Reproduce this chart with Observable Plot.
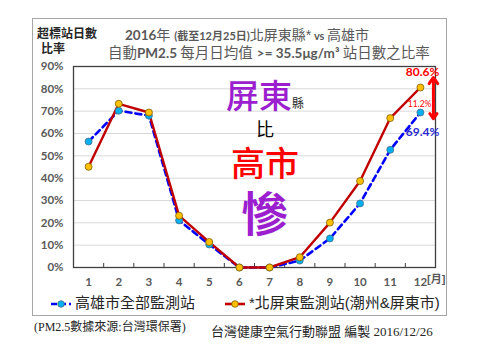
<!DOCTYPE html>
<html><head><meta charset="utf-8">
<script src="https://cdn.jsdelivr.net/npm/d3@7"></script>
<script src="https://cdn.jsdelivr.net/npm/@observablehq/plot@0.6"></script>
<style>
body{margin:0;background:#fff;}
#wrap{position:relative;width:480px;height:360px;overflow:hidden;font-family:"Liberation Sans","Noto Sans CJK TC",sans-serif;}
#wrap > svg{position:absolute;left:0;top:0;}
.abs{position:absolute;white-space:nowrap;line-height:1;}
.lat{font-family:Lato,"Noto Sans CJK TC",sans-serif;font-weight:bold;}
#frame{position:absolute;left:32px;top:18px;width:413px;height:296px;border:1.5px solid #a6a6a6;}
#big{position:absolute;left:200px;top:79px;width:130px;text-align:center;white-space:nowrap;}
</style></head><body><div id="wrap"><div id="frame"></div></div>
<script>
const months = [1,2,3,4,5,6,7,8,9,10,11,12];
const kaohsiung = [56.4,70.2,68.0,21.1,10.3,0,0,3.1,13.0,28.7,52.7,69.4];
const pingtung  = [45.1,73.3,69.4,23.2,11.4,0,0,4.6,20.1,38.7,66.9,80.6];
const yTicks = [0,10,20,30,40,50,60,70,80,90];
const seriesNames = ["高雄市全部監測站","*北屏東監測站(潮州&屏東市)"];

const kData = months.map((m,i)=>({month:m,value:kaohsiung[i]}));
const pData = months.map((m,i)=>({month:m,value:pingtung[i]}));
const bounds = months.slice(0,-1).map(m=>m+0.5);
const last = months.length-1;
const mid = (pingtung[last]+kaohsiung[last])/2;
const diff = (pingtung[last]-kaohsiung[last]).toFixed(1)+"%";

const plot = Plot.plot({
  width:480, height:360,
  marginTop:66, marginBottom:93, marginLeft:73, marginRight:45,
  x:{domain:[0.5,12.5]},
  y:{domain:[0,90]},
  style:{background:"transparent", fontFamily:"Lato, 'Noto Sans CJK TC', sans-serif", fontSize:"11.5px"},
  marks:[
    Plot.ruleY(yTicks.slice(1,-1),{stroke:"#d9d9d9",strokeWidth:1}),
    Plot.frame({stroke:"#404040",strokeWidth:1.3}),
    Plot.ruleX(bounds,{y1:0,y2:1.8,stroke:"#404040"}),
    Plot.axisY({ticks:yTicks,tickSize:0,tickPadding:10,tickFormat:d=>d+"%",fontWeight:"bold",fill:"#595959",label:null}),
    Plot.axisX({ticks:months,tickSize:0,tickPadding:10,tickFormat:d=>String(d),fontWeight:"bold",fill:"#595959",label:null}),
    Plot.line(kData,{x:"month",y:"value",stroke:"#0000ff",strokeWidth:2.6,strokeDasharray:"6,4"}),
    Plot.line(pData,{x:"month",y:"value",stroke:"#c00000",strokeWidth:2.4}),
    Plot.dot(kData,{x:"month",y:"value",r:3.5,fill:"#00b0f0",stroke:"#4d6f8a",strokeWidth:0.8}),
    Plot.dot(pData,{x:"month",y:"value",r:3.5,fill:"#ffc000",stroke:"#7f5f00",strokeWidth:0.8}),
    Plot.arrow([0],{x1:()=>months[last],x2:()=>months[last],y1:()=>mid,y2:()=>pingtung[last]+4.5,dx:13,stroke:"#ff0000",strokeWidth:3,headLength:9,headAngle:70}),
    Plot.arrow([0],{x1:()=>months[last],x2:()=>months[last],y1:()=>mid,y2:()=>kaohsiung[last]-2.8,dx:13,stroke:"#ff0000",strokeWidth:3,headLength:9,headAngle:70}),
    Plot.text([pData[last]],{x:"month",y:"value",text:d=>d.value.toFixed(1)+"%",dx:19,dy:-15,textAnchor:"end",fill:"#ff0000",fontWeight:"bold",fontSize:12}),
    Plot.text([kData[last]],{x:"month",y:"value",text:d=>d.value.toFixed(1)+"%",dx:19,dy:20,textAnchor:"end",fill:"#2a2ad0",fontWeight:"bold",fontSize:12}),
    Plot.text([0],{x:()=>months[last],y:()=>mid,text:()=>diff,dx:11,dy:4,textAnchor:"end",fill:"#ff0000",fontSize:8.5})
  ]
});
const wrap = document.getElementById("wrap");
wrap.appendChild(plot);

function add(html, css){
  const d=document.createElement("div");
  d.className="abs"; d.innerHTML=html; Object.assign(d.style,css); wrap.appendChild(d); return d;
}
// y label (one block, two lines)
add(`超標站日數<br><span style="padding-left:4px">比率</span>`,{left:"37px",top:"27px",fontSize:"12px",lineHeight:"15px",fontWeight:"bold",color:"#262626"});
// title
add(`<span class="lat" style="font-size:13.5px">2016</span><span style="font-size:14px">年 </span><span class="lat" style="font-size:11px">(截至12月25日)</span><span style="font-size:14px">北屏東縣*</span><span class="lat" style="font-size:11px"> vs </span><span style="font-size:14px">高雄市</span>`,
  {left:"125px",top:"27px",color:"#595959"});
add(`<span style="font-size:14.5px">自動</span><span class="lat" style="font-size:13.5px">PM2.5 </span><span style="font-size:14.5px">每月日均值 </span><span class="lat" style="font-size:13.5px">&gt;= 35.5μg/m³ </span><span style="font-size:14.5px">站日數之比率</span>`,
  {left:"108px",top:"45px",color:"#595959"});
// big annotation texts as one block
const big=document.createElement("div"); big.id="big";
big.innerHTML=
 `<div style="height:36px;line-height:36px"><span style="font-size:33px;color:#9b1fcf;font-weight:500">屏東</span><span style="font-size:12px;color:#222;line-height:12px">縣</span></div>`+
 `<div style="height:31px;line-height:31px;font-size:18px;color:#000">比</div>`+
 `<div style="height:36px;line-height:36px;font-size:34px;color:#ff0000;font-weight:500">高市</div>`+
 `<div style="height:65px;line-height:65px;font-size:47px;color:#9b1fcf;font-weight:bold">慘</div>`;
wrap.appendChild(big);
// month unit
add("[月]",{left:"427px",top:"274px",fontSize:"11px",color:"#595959",fontWeight:"bold"});
// legend
const sw = (dash,stroke,fill,dstroke)=>`<svg width="20" height="10" style="vertical-align:middle;margin-right:4px"><line x1="0" y1="5" x2="20" y2="5" stroke="${stroke}" stroke-width="2.6" ${dash?'stroke-dasharray="6,3"':''}/><circle cx="10" cy="5" r="3.3" fill="${fill}" stroke="${dstroke}" stroke-width="0.8"/></svg>`;
add(sw(true,"#0000ff","#00b0f0","#4d6f8a")+`<span>${seriesNames[0]}</span>`,{left:"51px",top:"295px",fontSize:"15px",color:"#262626"});
add(sw(false,"#c00000","#ffc000","#7f5f00")+`<span>${seriesNames[1]}</span>`,{left:"225px",top:"295px",fontSize:"15px",color:"#262626"});
// footer
add("(PM2.5數據來源:台灣環保署)",{left:"34px",top:"321px",fontSize:"12px",color:"#262626",fontFamily:"'Liberation Serif','Noto Sans CJK TC',serif"});
add("台灣健康空氣行動聯盟 編製 2016/12/26",{left:"211px",top:"325px",fontSize:"13px",color:"#262626",fontFamily:"'Liberation Serif','Noto Sans CJK TC',serif"});
</script></body></html>
